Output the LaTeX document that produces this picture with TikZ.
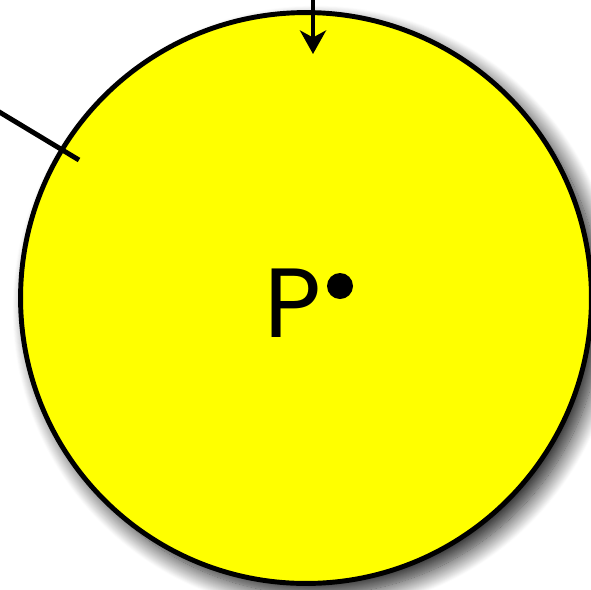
\documentclass[tikz,border=0pt]{standalone}
\usepackage{fontspec}
\setmainfont{Poppins}
\usetikzlibrary{arrows.meta,positioning,shadows.blur}
\definecolor{discyellow}{RGB}{255,255,0}
\tikzset{
  every picture/.style={line width=2.8pt},
  disc/.style={circle, draw=black, fill=discyellow, minimum size=11.42cm, inner sep=0pt,
               blur shadow={shadow xshift=0.2cm, shadow yshift=-0.22cm,
                            shadow blur radius=0.36cm, shadow blur steps=20,
                            shadow opacity=90}},
  plabel/.style={inner sep=0pt, font=\fontsize{56}{60}\selectfont},
  pdot/.style={circle, fill=black, inner sep=0pt, minimum size=0.52cm},
  marker/.style={line cap=butt},
  pointer/.style={-{Stealth[length=0.47cm, width=0.52cm, inset=0.14cm]}},
}
\begin{document}
\begin{tikzpicture}[x=0.02cm, y=-0.02cm]
  \useasboundingbox (0,0) rectangle (591,589);
  \clip (0,0) rectangle (591,589);
  \node[disc] (ball) at (306,298) {};
  \node[plabel, anchor=base west] (ptext) at (262,337) {P};
  \node[pdot] (pt) at (340,286) {};
  % radial mark on the rim
  \coordinate (mout) at (-4,110);
  \coordinate (min) at (79,160);
  \draw[marker] (mout) -- (min);
  % arrow coming in from the top
  \coordinate (atop) at (313,-4);
  \coordinate (atip) at (313,54);
  \draw[pointer] (atop) -- (atip);
\end{tikzpicture}
\end{document}
